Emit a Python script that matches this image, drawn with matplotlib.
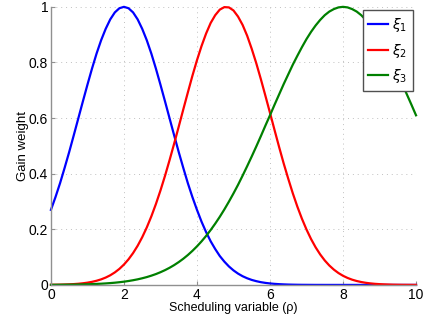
import matplotlib
matplotlib.use('Agg')
import matplotlib.pyplot as plt

# scheduling variable samples, step 0.125
rho = [i * 0.125 for i in range(81)]

xi_1 = [0.270, 0.316, 0.366, 0.421, 0.478, 0.538, 0.599, 0.660,
        0.720, 0.778, 0.832, 0.880, 0.921, 0.955, 0.980, 0.995,
        1.000, 0.995, 0.980, 0.955, 0.921, 0.880, 0.832, 0.778,
        0.720, 0.660, 0.599, 0.538, 0.478, 0.421, 0.366, 0.316,
        0.270, 0.2275, 0.190, 0.157, 0.129, 0.104, 0.0838, 0.0665,
        0.0523, 0.0407, 0.0313, 0.0239, 0.0180, 0.0135, 0.0099, 0.0073,
        0.0053, 0.0038, 0.0027, 0.0019, 0.0013, 0.0009, 0.0006, 0.0004,
        0.0003, 0.0002, 0.0001, 0.0001, 0.00005, 0.00003, 0.00002, 0.0,
        0.0, 0.0, 0.0, 0.0, 0.0, 0.0, 0.0, 0.0,
        0.0, 0.0, 0.0, 0.0, 0.0, 0.0, 0.0, 0.0,
        0.0]

xi_2 = [0.0005, 0.0007, 0.0010, 0.0015, 0.0021, 0.0030, 0.0042, 0.0059,
        0.0081, 0.0111, 0.0150, 0.0200, 0.0265, 0.0347, 0.0450, 0.0577,
        0.0733, 0.0921, 0.1145, 0.1408, 0.1715, 0.2066, 0.2464, 0.2908,
        0.3396, 0.3925, 0.449, 0.508, 0.569, 0.631, 0.692, 0.752,
        0.808, 0.859, 0.904, 0.942, 0.970, 0.990, 0.999, 0.998,
        0.987, 0.965, 0.935, 0.896, 0.849, 0.797, 0.740, 0.680,
        0.619, 0.557, 0.496, 0.437, 0.382, 0.3295, 0.2815, 0.2381,
        0.1993, 0.1650, 0.1352, 0.1097, 0.0880, 0.0699, 0.0550, 0.0428,
        0.0329, 0.0251, 0.0189, 0.0141, 0.0104, 0.0076, 0.0055, 0.0039,
        0.0028, 0.0020, 0.0014, 0.0009, 0.0006, 0.0004, 0.0003, 0.0002,
        0.0001]

xi_3 = [0.0004, 0.0005, 0.0006, 0.0008, 0.0010, 0.0012, 0.0015, 0.0019,
        0.0024, 0.0029, 0.0036, 0.0044, 0.0054, 0.0066, 0.0080, 0.0097,
        0.0117, 0.0141, 0.0169, 0.0201, 0.0239, 0.0282, 0.0333, 0.0390,
        0.0457, 0.0532, 0.0617, 0.0713, 0.0821, 0.0941, 0.1075, 0.1224,
        0.1387, 0.1566, 0.1762, 0.1974, 0.2204, 0.2450, 0.2714, 0.2995,
        0.329, 0.360, 0.393, 0.427, 0.462, 0.498, 0.535, 0.573,
        0.610, 0.648, 0.685, 0.722, 0.757, 0.792, 0.824, 0.855,
        0.884, 0.910, 0.933, 0.953, 0.970, 0.983, 0.992, 0.998,
        1.000, 0.998, 0.992, 0.983, 0.970, 0.953, 0.933, 0.910,
        0.884, 0.855, 0.824, 0.792, 0.757, 0.722, 0.685, 0.648,
        0.610]

labels = [r'$\xi_1$', r'$\xi_2$', r'$\xi_3$']
colors = ['#0000ff', '#ff0000', '#008000']

plt.rcParams['font.family'] = ['Liberation Sans', 'DejaVu Sans']
plt.rcParams['mathtext.fontset'] = 'dejavusans'

fig = plt.figure(figsize=(4.28, 3.26), dpi=100)
ax = fig.add_axes([0.119, 0.126, 0.853, 0.853])

for ys, lab, col in zip([xi_1, xi_2, xi_3], labels, colors):
    ax.plot(rho, ys, color=col, lw=1.6, label=lab, clip_on=False,
            solid_joinstyle='round')

ax.set_xlim(0, 10)
ax.set_ylim(0, 1)
ax.set_xticks([0, 2, 4, 6, 8, 10])
ax.set_yticks([0, 0.2, 0.4, 0.6, 0.8, 1])
ax.set_yticklabels(['0', '0.2', '0.4', '0.6', '0.8', '1'])

ax.grid(True, linestyle=(0, (1, 4)), color='#c0c0c0', lw=0.7)
for s in ['top', 'right']:
    ax.spines[s].set_visible(False)
for s in ['left', 'bottom']:
    ax.spines[s].set_color('#909090')
    ax.spines[s].set_linewidth(1.0)
ax.tick_params(direction='in', length=3, color='#909090', labelsize=10, pad=2)

ax.set_xlabel('Scheduling variable (\u03c1)', fontsize=9, labelpad=0)
ax.set_ylabel('Gain weight', fontsize=9.5)
ax.yaxis.set_label_coords(-0.06, 0.5)

leg = ax.legend(loc='upper right', fontsize=10, fancybox=False, framealpha=1,
                edgecolor='#505050', handlelength=1.4, borderaxespad=0.25,
                labelspacing=0.55, handletextpad=0.3, borderpad=0.4)
leg.get_frame().set_linewidth(1.0)

fig.savefig('out.png', dpi=100)
